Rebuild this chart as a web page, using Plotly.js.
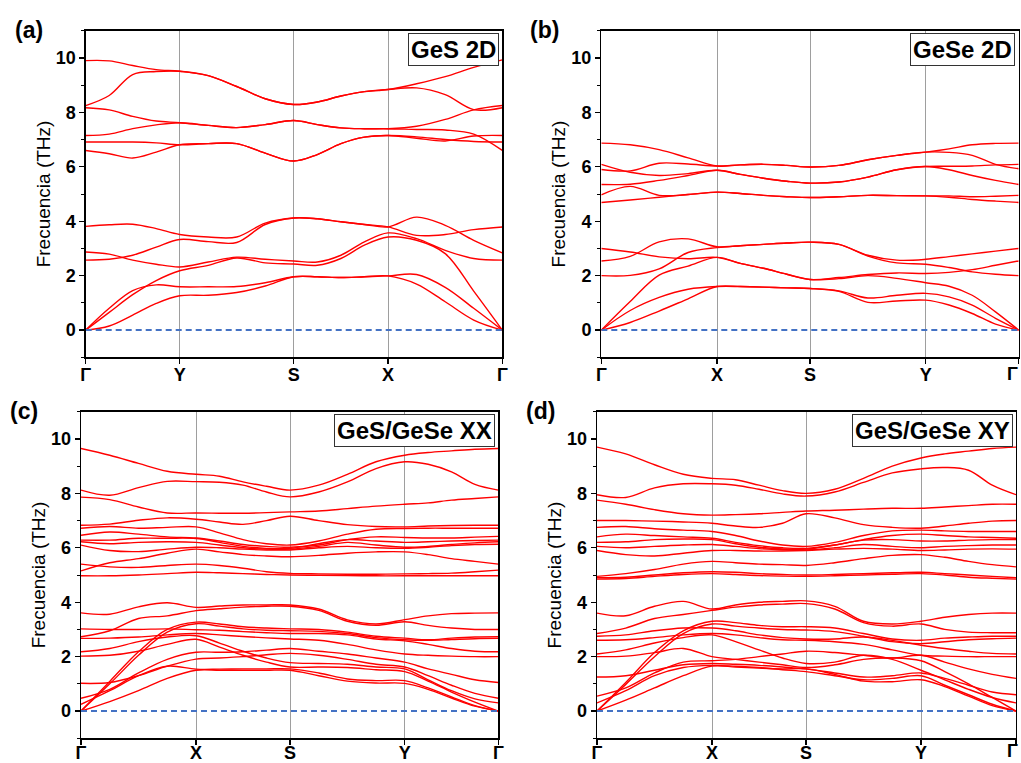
<!DOCTYPE html>
<html><head><meta charset="utf-8">
<script src="https://cdn.plot.ly/plotly-3.0.1.min.js"></script>
<style>html,body{margin:0;padding:0;background:#fff}</style>
</head><body><div id="chart" style="width:1021px;height:763px"></div>
<script>
// ---------- Panel (a) GeS 2D ----------
const kA = [0, 23.5, 47, 70.5, 94, 122.5, 151, 179.5, 208, 231.6, 255.2, 278.7, 302.3, 330.9, 359.5, 388, 416.6];
const ticksA = [0, 94, 208, 302.3, 416.6];
const labelsA = ['Γ', 'Y', 'S', 'X', 'Γ'];
const bandsA = [
  [0, 0.15, 0.55, 0.98, 1.26, 1.28, 1.38, 1.62, 1.96, 1.96, 1.93, 1.96, 1.99, 1.69, 1.04, 0.37, 0],
  [0, 0.8, 1.45, 1.66, 1.59, 1.59, 1.6, 1.74, 1.96, 1.96, 1.93, 1.96, 1.99, 2.04, 1.57, 0.8, 0],
  [0, 0.65, 1.3, 1.82, 2.18, 2.38, 2.65, 2.47, 2.43, 2.38, 2.63, 3.12, 3.42, 3.3, 2.81, 1.43, 0],
  [2.87, 2.79, 2.57, 2.42, 2.32, 2.5, 2.68, 2.6, 2.54, 2.5, 2.75, 3.24, 3.57, 3.36, 2.93, 2.63, 2.57],
  [2.57, 2.6, 2.75, 3.05, 3.33, 3.25, 3.22, 3.88, 4.12, 4.09, 3.98, 3.88, 3.79, 3.48, 3.51, 3.69, 3.79],
  [3.81, 3.87, 3.89, 3.73, 3.51, 3.42, 3.42, 3.93, 4.12, 4.09, 3.98, 3.88, 3.79, 4.15, 3.85, 3.3, 2.84],
  [6.6, 6.48, 6.32, 6.54, 6.81, 6.85, 6.85, 6.5, 6.21, 6.45, 6.85, 7.09, 7.15, 7.1, 7.0, 6.93, 6.91],
  [6.91, 6.91, 6.91, 6.88, 6.81, 6.85, 6.85, 6.5, 6.21, 6.45, 6.85, 7.09, 7.15, 7.05, 6.95, 7.13, 7.15],
  [7.15, 7.2, 7.4, 7.54, 7.62, 7.52, 7.44, 7.55, 7.7, 7.55, 7.43, 7.4, 7.4, 7.37, 7.35, 7.2, 6.6],
  [8.17, 8.09, 7.85, 7.68, 7.62, 7.52, 7.44, 7.55, 7.7, 7.55, 7.43, 7.4, 7.4, 7.49, 7.74, 8.09, 8.25],
  [8.25, 8.62, 9.39, 9.5, 9.51, 9.35, 8.95, 8.5, 8.29, 8.38, 8.6, 8.76, 8.84, 8.9, 8.65, 8.1, 8.17],
  [9.9, 9.89, 9.72, 9.57, 9.51, 9.35, 8.95, 8.5, 8.29, 8.38, 8.6, 8.76, 8.84, 9.05, 9.31, 9.65, 9.93]
];

// ---------- Panel (b) GeSe 2D ----------
const kB = [0, 28.9, 57.85, 86.8, 115.7, 139, 162.2, 185.5, 208.7, 237.6, 266.6, 295.5, 324.4, 347.7, 370.9, 394.2, 417.4];
const ticksB = [0, 115.7, 208.7, 324.4, 417.4];
const labelsB = ['Γ', 'X', 'S', 'Y', ''];
const bandsB = [
  [0, 0.28, 0.7, 1.15, 1.6, 1.6, 1.58, 1.55, 1.53, 1.42, 1.02, 1.07, 1.1, 0.92, 0.61, 0.22, 0],
  [0, 0.72, 1.2, 1.5, 1.6, 1.6, 1.58, 1.55, 1.53, 1.44, 1.18, 1.28, 1.35, 1.22, 0.92, 0.43, 0],
  [2.54, 2.71, 3.24, 3.35, 3.06, 3.1, 3.15, 3.2, 3.23, 3.15, 2.72, 2.47, 2.42, 2.3, 2.14, 2.05, 2.0],
  [2.0, 2.01, 2.25, 2.85, 3.03, 3.1, 3.15, 3.2, 3.23, 3.15, 2.75, 2.57, 2.6, 2.7, 2.8, 2.9, 3.0],
  [3.0, 2.87, 2.69, 2.62, 2.67, 2.45, 2.27, 2.05, 1.86, 1.89, 2.0, 1.9, 1.74, 1.61, 1.28, 0.67, 0],
  [0, 1.05, 2.02, 2.35, 2.67, 2.45, 2.27, 2.05, 1.86, 1.93, 2.04, 2.1, 2.08, 2.12, 2.22, 2.38, 2.54],
  [4.69, 4.78, 4.88, 4.98, 5.07, 5.02, 4.95, 4.9, 4.87, 4.9, 4.95, 4.94, 4.93, 4.88, 4.8, 4.74, 4.69],
  [4.97, 5.28, 4.95, 4.98, 5.07, 5.02, 4.95, 4.9, 4.87, 4.9, 4.95, 4.94, 4.93, 4.93, 4.9, 4.92, 4.95],
  [5.35, 5.36, 5.5, 5.68, 5.87, 5.72, 5.58, 5.47, 5.4, 5.44, 5.62, 5.89, 6.01, 5.89, 5.68, 5.5, 5.35],
  [6.09, 5.8, 5.68, 5.75, 5.87, 5.72, 5.58, 5.47, 5.4, 5.44, 5.62, 5.89, 6.01, 6.02, 6.03, 6.07, 6.09],
  [5.9, 5.85, 6.13, 6.1, 6.03, 6.07, 6.09, 6.05, 5.99, 6.05, 6.26, 6.42, 6.54, 6.53, 6.42, 6.09, 5.93],
  [6.87, 6.81, 6.63, 6.33, 6.03, 6.07, 6.09, 6.05, 5.99, 6.05, 6.26, 6.42, 6.54, 6.66, 6.81, 6.86, 6.87]
];

// ---------- Panel (c) GeS/GeSe XX ----------
const kC = [0, 28.75, 57.5, 86.25, 115, 138.5, 162, 185.5, 209, 237.7, 266.4, 295, 323.7, 347.1, 370.5, 393.9, 417.3];
const ticksC = [0, 115, 209, 323.7, 417.3];
const labelsC = ['Γ', 'X', 'S', 'Y', 'Γ'];
const bandsC = [
  [9.65, 9.4, 9.1, 8.81, 8.7, 8.63, 8.42, 8.26, 8.12, 8.3, 8.7, 9.16, 9.4, 9.5, 9.56, 9.62, 9.65],
  [8.12, 7.93, 8.21, 8.44, 8.43, 8.41, 8.3, 8.05, 7.87, 8.05, 8.42, 8.91, 9.16, 9.07, 8.79, 8.33, 8.12],
  [7.86, 7.77, 7.5, 7.28, 7.28, 7.27, 7.27, 7.29, 7.32, 7.35, 7.44, 7.53, 7.6, 7.65, 7.75, 7.81, 7.87],
  [6.83, 6.87, 7.01, 7.1, 7.05, 6.95, 6.86, 7.0, 7.16, 7.0, 6.85, 6.78, 6.77, 6.8, 6.82, 6.83, 6.83],
  [6.72, 6.78, 6.72, 6.75, 6.77, 6.55, 6.3, 6.15, 6.1, 6.25, 6.5, 6.68, 6.71, 6.72, 6.72, 6.72, 6.72],
  [6.46, 6.58, 6.5, 6.4, 6.36, 6.25, 6.12, 6.05, 6.02, 6.1, 6.3, 6.4, 6.38, 6.36, 6.36, 6.39, 6.42],
  [6.28, 6.28, 6.35, 6.35, 6.34, 6.2, 6.05, 5.98, 5.98, 6.15, 6.3, 6.25, 6.2, 6.22, 6.25, 6.27, 6.28],
  [6.22, 6.15, 6.2, 6.22, 6.2, 6.1, 6.0, 5.95, 5.95, 6.05, 6.2, 6.1, 6.02, 6.05, 6.12, 6.18, 6.22],
  [6.1, 5.9, 5.86, 5.95, 6.02, 6.0, 5.95, 5.92, 5.92, 6.0, 6.05, 6.0, 5.98, 6.02, 6.08, 6.12, 6.13],
  [5.4, 5.3, 5.28, 5.35, 5.4, 5.35, 5.25, 5.12, 5.06, 5.04, 5.03, 5.03, 5.04, 5.05, 5.07, 5.12, 5.18],
  [5.15, 5.45, 5.6, 5.8, 5.95, 5.85, 5.75, 5.7, 5.67, 5.72, 5.8, 5.85, 5.85, 5.75, 5.6, 5.5, 5.4],
  [4.97, 4.97, 5.0, 5.05, 5.1, 5.08, 5.05, 5.02, 5.0, 4.99, 4.98, 4.97, 4.97, 4.97, 4.97, 4.97, 4.97],
  [3.61, 3.56, 3.83, 3.98, 3.81, 3.86, 3.9, 3.9, 3.9, 3.75, 3.35, 3.2, 3.36, 3.5, 3.58, 3.6, 3.61],
  [2.73, 2.95, 3.4, 3.5, 3.69, 3.76, 3.82, 3.85, 3.85, 3.7, 3.3, 3.15, 3.28, 3.15, 3.05, 3.0, 3.0],
  [0, 1.09, 2.18, 3.0, 3.27, 3.2, 3.1, 3.05, 3.02, 3.0, 2.9, 2.75, 2.68, 2.62, 2.68, 2.72, 2.73],
  [0, 1.0, 2.05, 2.9, 3.21, 3.12, 3.02, 2.97, 2.95, 2.93, 2.85, 2.7, 2.62, 2.6, 2.63, 2.66, 2.67],
  [3.02, 3.0, 3.0, 3.02, 2.99, 2.97, 2.92, 2.88, 2.85, 2.85, 2.8, 2.65, 2.58, 2.45, 2.3, 2.2, 2.18],
  [2.67, 2.68, 2.72, 2.8, 2.85, 2.8, 2.74, 2.69, 2.65, 2.6, 2.45, 2.25, 2.1, 2.05, 2.02, 2.0, 2.0],
  [2.18, 2.3, 2.55, 2.72, 2.77, 2.5, 2.2, 1.95, 1.78, 1.75, 1.72, 1.62, 1.55, 1.15, 0.75, 0.45, 0.3],
  [2.02, 2.05, 2.2, 2.45, 2.64, 2.35, 2.05, 1.8, 1.62, 1.62, 1.6, 1.52, 1.45, 1.1, 0.7, 0.33, 0],
  [0.47, 0.8, 1.4, 1.9, 2.16, 2.16, 2.18, 2.24, 2.3, 2.2, 2.1, 1.95, 1.8, 1.55, 1.35, 1.15, 1.05],
  [1.02, 1.05, 1.3, 1.65, 1.91, 1.95, 2.0, 2.07, 2.12, 2.05, 1.9, 1.72, 1.62, 1.3, 0.95, 0.65, 0.47],
  [0.25, 0.75, 1.3, 1.65, 1.54, 1.54, 1.55, 1.55, 1.55, 1.4, 1.18, 1.12, 1.12, 0.85, 0.52, 0.2, 0],
  [0, 0.35, 0.75, 1.2, 1.5, 1.5, 1.5, 1.5, 1.5, 1.3, 1.1, 1.03, 1.02, 0.8, 0.48, 0.18, 0]
];

// ---------- Panel (d) GeS/GeSe XY ----------
const kD = [0, 28.75, 57.5, 86.25, 115, 138.5, 162, 185.5, 209, 237.75, 266.5, 295.25, 324, 347.75, 371.5, 395.25, 419];
const ticksD = [0, 115, 209, 324, 419];
const labelsD = ['Γ', 'X', 'S', 'Y', ''];
const bandsD = [
  [9.7, 9.45, 9.05, 8.7, 8.55, 8.5, 8.3, 8.1, 8.0, 8.15, 8.55, 9.0, 9.3, 9.45, 9.55, 9.65, 9.7],
  [7.95, 7.85, 8.2, 8.35, 8.35, 8.3, 8.15, 7.98, 7.9, 8.05, 8.4, 8.75, 8.9, 8.95, 8.85, 8.3, 7.95],
  [7.75, 7.6, 7.4, 7.25, 7.2, 7.22, 7.25, 7.3, 7.35, 7.38, 7.42, 7.45, 7.45, 7.5, 7.55, 7.6, 7.6],
  [7.0, 7.0, 6.98, 6.95, 6.9, 6.8, 6.75, 6.9, 7.25, 7.1, 6.85, 6.75, 6.72, 6.8, 6.9, 6.98, 7.0],
  [6.75, 6.78, 6.7, 6.65, 6.6, 6.45, 6.25, 6.1, 6.05, 6.2, 6.45, 6.62, 6.65, 6.62, 6.6, 6.6, 6.6],
  [6.4, 6.5, 6.45, 6.4, 6.35, 6.2, 6.08, 6.0, 5.98, 6.1, 6.3, 6.45, 6.5, 6.45, 6.4, 6.38, 6.35],
  [6.2, 6.22, 6.3, 6.32, 6.3, 6.15, 6.02, 5.96, 5.95, 6.1, 6.28, 6.3, 6.25, 6.25, 6.28, 6.3, 6.3],
  [6.05, 6.0, 6.05, 6.1, 6.12, 6.05, 5.97, 5.93, 5.92, 6.0, 6.12, 6.05, 6.0, 6.05, 6.08, 6.1, 6.1],
  [5.9, 5.75, 5.7, 5.8, 5.9, 5.9, 5.88, 5.88, 5.9, 5.95, 5.98, 5.95, 5.9, 5.92, 5.95, 5.96, 5.95],
  [4.95, 5.05, 5.2, 5.4, 5.5, 5.45, 5.4, 5.38, 5.35, 5.45, 5.6, 5.72, 5.75, 5.65, 5.5, 5.38, 5.3],
  [4.9, 4.92, 5.0, 5.08, 5.12, 5.1, 5.05, 5.02, 5.0, 5.02, 5.05, 5.08, 5.1, 5.05, 5.0, 4.95, 4.9],
  [4.85, 4.87, 4.95, 5.02, 5.05, 5.02, 4.98, 4.96, 4.95, 4.97, 5.0, 5.03, 5.05, 5.0, 4.92, 4.88, 4.85],
  [3.6, 3.5, 3.85, 4.03, 3.75, 3.9, 4.0, 4.03, 4.05, 3.85, 3.3, 3.2, 3.3, 3.45, 3.55, 3.6, 3.6],
  [2.85, 3.05, 3.4, 3.55, 3.7, 3.82, 3.9, 3.93, 3.95, 3.75, 3.25, 3.12, 3.2, 3.0, 2.9, 2.88, 2.88],
  [0, 1.05, 2.15, 2.95, 3.3, 3.25, 3.15, 3.1, 3.1, 3.05, 2.85, 2.65, 2.6, 2.68, 2.72, 2.75, 2.75],
  [0, 0.98, 2.0, 2.85, 3.2, 3.12, 3.05, 3.0, 2.98, 2.92, 2.75, 2.55, 2.48, 2.55, 2.62, 2.66, 2.68],
  [2.75, 2.8, 2.95, 3.05, 3.05, 2.95, 2.8, 2.7, 2.65, 2.65, 2.72, 2.6, 2.42, 2.3, 2.2, 2.12, 2.1],
  [2.6, 2.62, 2.7, 2.8, 2.85, 2.8, 2.7, 2.62, 2.6, 2.55, 2.45, 2.25, 2.05, 2.02, 2.0, 2.0, 2.0],
  [2.1, 2.25, 2.5, 2.7, 2.8, 2.55, 2.25, 1.95, 1.75, 1.8, 2.05, 1.9, 1.5, 1.15, 0.8, 0.5, 0.3],
  [2.0, 2.02, 2.15, 2.3, 2.0, 1.9, 1.8, 1.7, 1.6, 1.7, 1.9, 1.95, 1.85, 1.45, 1.0, 0.5, 0],
  [0.55, 0.85, 1.4, 1.8, 1.85, 1.9, 2.0, 2.1, 2.2, 2.15, 2.05, 1.95, 2.05, 1.8, 1.55, 1.35, 1.2],
  [1.25, 1.3, 1.5, 1.7, 1.75, 1.72, 1.68, 1.62, 1.55, 1.4, 1.25, 1.3, 1.4, 1.2, 0.95, 0.7, 0.6],
  [0.3, 0.75, 1.3, 1.6, 1.68, 1.65, 1.6, 1.52, 1.45, 1.3, 1.15, 1.2, 1.3, 0.95, 0.6, 0.25, 0],
  [0, 0.4, 0.85, 1.3, 1.65, 1.62, 1.58, 1.55, 1.55, 1.35, 1.1, 1.08, 1.15, 0.9, 0.55, 0.2, 0]
];

const zeroLevel = [0, 0];
const yTitle = 'Frecuencia (THz)';
const panelTags = ['(a)', '(b)', '(c)', '(d)'];
const boxTexts = ['GeS 2D', 'GeSe 2D', 'GeS/GeSe XX', 'GeS/GeSe XY'];
const edgeLabel = 'Γ';

const FONT = 'Liberation Sans, Arial, Helvetica, sans-serif';
const panels = [
  {k: kA, bands: bandsA, ticks: ticksA, labels: labelsA, xd: [85.7, 502.3], row: 0},
  {k: kB, bands: bandsB, ticks: ticksB, labels: labelsB, xd: [601.3, 1018.7], row: 0},
  {k: kC, bands: bandsC, ticks: ticksC, labels: labelsC, xd: [81, 498.3], row: 1},
  {k: kD, bands: bandsD, ticks: ticksD, labels: labelsD, xd: [597, 1016], row: 1}
];
const W = 1021, H = 763;
const rowsPx = [[30.7, 357.3], [411.7, 738.3]];
const labelShift = [-4, -7];
const edgeLabelY = [374, 751];

const traces = [];
const layout = {
  width: W, height: H, margin: {l: 0, r: 0, t: 0, b: 0},
  paper_bgcolor: '#fff', plot_bgcolor: '#fff', showlegend: false,
  font: {family: FONT, color: '#000'},
  annotations: []
};

panels.forEach((p, i) => {
  const n = i + 1;
  const xa = 'x' + (n === 1 ? '' : n), ya = 'y' + (n === 1 ? '' : n);
  const xk = 'xaxis' + (n === 1 ? '' : n), yk = 'yaxis' + (n === 1 ? '' : n);
  const end = p.ticks[p.ticks.length - 1];
  p.bands.forEach(b => {
    traces.push({x: p.k, y: b, xaxis: xa, yaxis: ya, type: 'scatter', mode: 'lines',
      line: {color: '#ff0000', width: 1.4, shape: 'spline', smoothing: 1}, hoverinfo: 'skip'});
  });
  traces.push({x: [0, end], y: zeroLevel, xaxis: xa, yaxis: ya, type: 'scatter', mode: 'lines',
    line: {color: '#4472c4', width: 2, dash: '6px,4px'}, hoverinfo: 'skip'});
  const rp = rowsPx[p.row];
  layout[xk] = {
    domain: [p.xd[0] / W, p.xd[1] / W], anchor: ya, range: [0, end],
    tickmode: 'array', tickvals: p.ticks, ticktext: p.labels,
    showgrid: true, gridcolor: '#9e9e9e', gridwidth: 1,
    showline: true, linecolor: '#000', linewidth: 1.3, mirror: true,
    ticks: 'outside', ticklen: 5, tickwidth: 1.2, tickcolor: '#000',
    tickfont: {family: FONT, size: 18, color: '#000', weight: 'bold'},
    ticklabeloverflow: 'allow', ticklabelstandoff: labelShift[p.row],
    zeroline: false, fixedrange: true
  };
  layout[yk] = {
    domain: [1 - rp[1] / H, 1 - rp[0] / H], anchor: xa, range: [-1, 11],
    tickmode: 'linear', tick0: 0, dtick: 2,
    ticks: 'outside', ticklen: 5, tickwidth: 1.2, tickcolor: '#000',
    minor: {ticks: 'outside', ticklen: 3, dtick: 1, tick0: 0, tickcolor: '#000', tickwidth: 1},
    showline: true, linecolor: '#000', linewidth: 1.3, mirror: true,
    showgrid: false, zeroline: false,
    tickfont: {family: FONT, size: 18, color: '#000', weight: 'bold'},
    title: {text: yTitle, font: {family: FONT, size: 19, color: '#000'}, standoff: 0},
    fixedrange: true
  };
  layout.annotations.push({
    xref: 'paper', yref: 'paper',
    x: (p.xd[0] - 73) / W, y: 1 - (rp[0] - 1) / H,
    xanchor: 'left', yanchor: 'middle', showarrow: false,
    text: panelTags[i], font: {family: FONT, size: 23, color: '#000', weight: 'bold'}
  });
  layout.annotations.push({
    xref: xa + ' domain', yref: ya + ' domain', x: 0.992, y: 0.993,
    xanchor: 'right', yanchor: 'top', showarrow: false,
    text: boxTexts[i], font: {family: FONT, size: 24, color: '#000', weight: 'bold'},
    bgcolor: '#fff', bordercolor: '#333', borderwidth: 1, borderpad: 2
  });
  if (p.labels[p.labels.length - 1] === '') {
    layout.annotations.push({
      xref: 'paper', yref: 'paper', x: 1020 / W,
      y: 1 - edgeLabelY[p.row] / H,
      xanchor: 'right', yanchor: 'middle', showarrow: false,
      text: edgeLabel, font: {family: FONT, size: 18, color: '#000', weight: 'bold'}
    });
  }
});

Plotly.newPlot('chart', traces, layout, {staticPlot: true, displayModeBar: false});
</script>
</body></html>
